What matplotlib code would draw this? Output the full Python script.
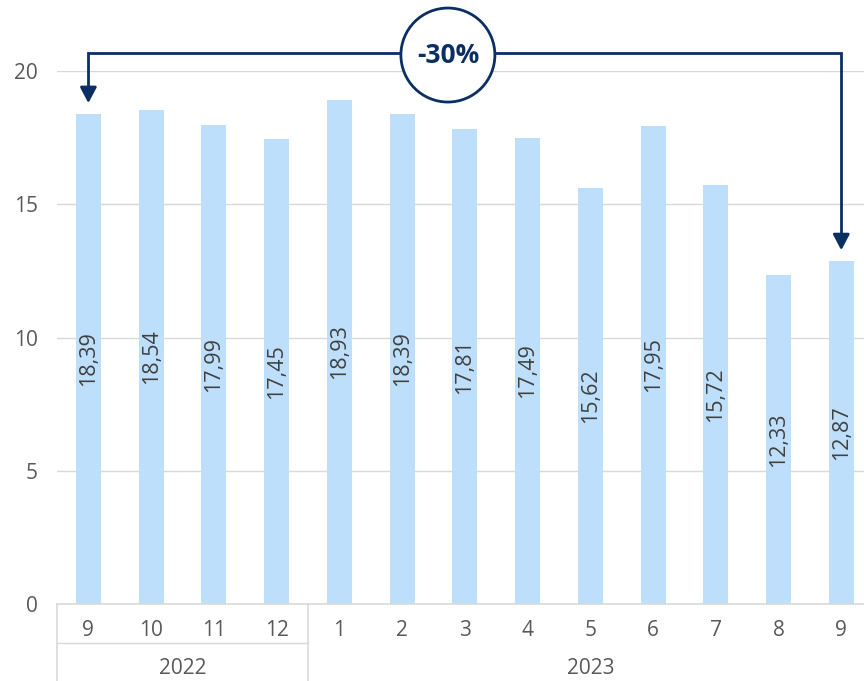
import matplotlib.pyplot as plt
import numpy as np
from matplotlib.patches import Circle

plt.rcParams['font.family'] = ['Open Sans', 'DejaVu Sans']

months = ['9', '10', '11', '12', '1', '2', '3', '4', '5', '6', '7', '8', '9']
years = ['2022', '2023']
year_counts = [4, 9]
values = [18.39, 18.54, 17.99, 17.45, 18.93, 18.39, 17.81, 17.49, 15.62, 17.95, 15.72, 12.33, 12.87]
change_label = '-30%'

bar_color = '#BDDFFB'
grid_color = '#D9D9D9'
text_color = '#595959'
navy = '#0B2F63'

fig = plt.figure(figsize=(8.64, 6.81), dpi=100)
ax = fig.add_axes([0.066, 0.113, 0.944, 0.7827])

x = np.arange(len(values))
ax.bar(x, values, 0.4, color=bar_color, zorder=2)

# data labels, rotated, centred in bar
for xi, v in zip(x, values):
    ax.text(xi, v / 2, f'{v:.2f}'.replace('.', ','), rotation=90, ha='center', va='center',
            fontsize=15.5, color='#404040', zorder=3)

ax.set_xlim(-0.5, len(values) - 0.5)
ax.set_ylim(0, 20)
ax.set_yticks([0, 5, 10, 15, 20])
ax.tick_params(axis='y', length=0, pad=14, labelsize=15, labelcolor=text_color)
ax.grid(axis='y', color=grid_color, linewidth=1, zorder=0)
ax.set_xticks([])
for s in ['top', 'right', 'left']:
    ax.spines[s].set_visible(False)
ax.spines['bottom'].set_color(grid_color)
ax.spines['bottom'].set_linewidth(1.2)

# two-level category axis
trans = ax.get_xaxis_transform()
for xi, m in zip(x, months):
    ax.text(xi, -0.049, m, transform=trans, ha='center', va='center', fontsize=15,
            color=text_color, clip_on=False)
start = 0
bounds = [-0.5]
for yr, n in zip(years, year_counts):
    mid = start + (n - 1) / 2
    ax.text(mid, -0.12, yr, transform=trans, ha='center', va='center', fontsize=15,
            color=text_color, clip_on=False)
    start += n
    bounds.append(start - 0.5)
for b in bounds:
    ax.plot([b, b], [0, -0.15], transform=trans, color=grid_color, lw=1.2, clip_on=False)
ax.plot([-0.5, bounds[1]], [-0.073, -0.073], transform=trans, color=grid_color, lw=1, clip_on=False)

# change bracket with arrows
top_y = 20.67
first, last = values[0], values[-1]
ax.plot([0, 0, x[-1], x[-1]], [first + 0.9, top_y, top_y, last + 0.9], color=navy, lw=2,
        clip_on=False, solid_joinstyle='miter', zorder=4)
for xi, v in [(0, first), (x[-1], last)]:
    ax.annotate('', xy=(xi, v + 0.3), xytext=(xi, v + 1.0),
                arrowprops=dict(arrowstyle='-|>,head_width=0.5,head_length=0.95', color=navy, lw=2),
                annotation_clip=False, zorder=5)

# circle badge
cx = 5.73
fig.canvas.draw()
px = ax.transData.transform([(cx, top_y - 0.07)])[0]
circ = Circle(px, 47, transform=None, facecolor='white', edgecolor=navy, lw=2, zorder=6)
fig.patches.append(circ)
fig.text(px[0] / fig.dpi / 8.64, px[1] / fig.dpi / 6.81, change_label, ha='center', va='center',
         fontsize=19, fontweight='bold', color=navy, zorder=7)

fig.savefig('out.png', dpi=100)
